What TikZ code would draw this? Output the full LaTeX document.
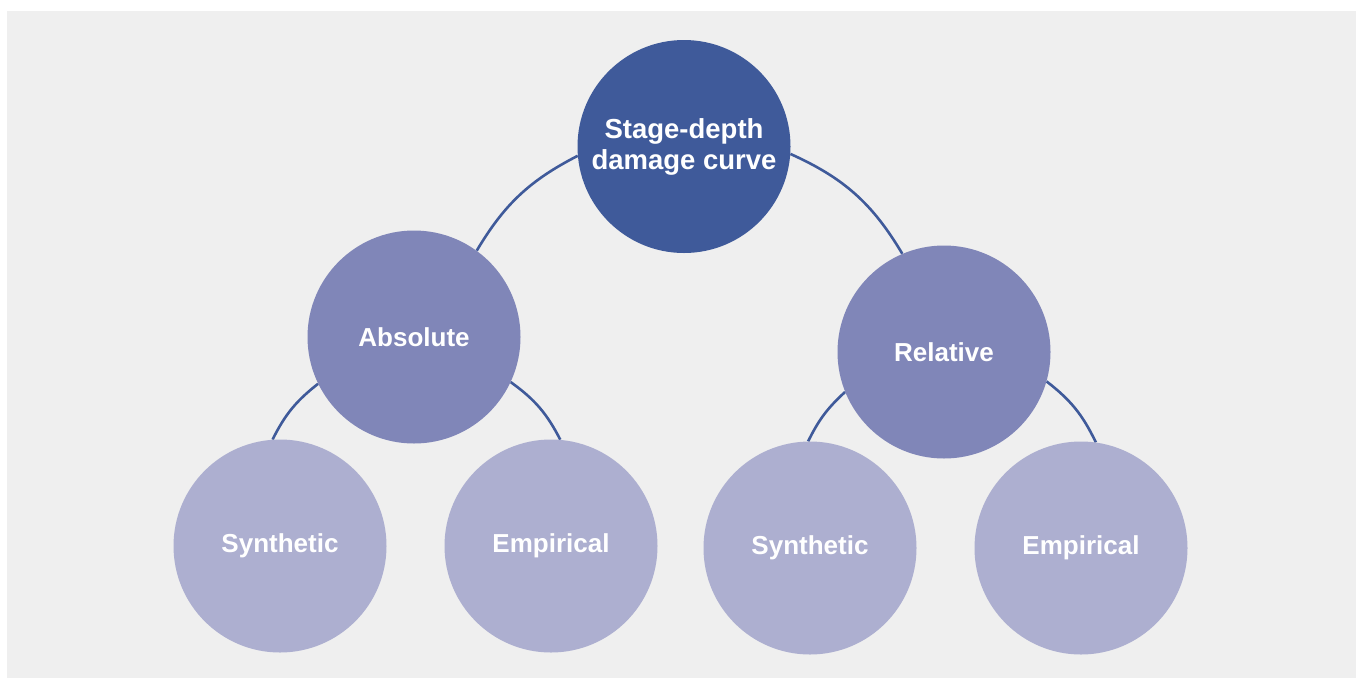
\documentclass[tikz,border=0pt]{standalone}
\usepackage{fontspec}
\setmainfont{Liberation Sans}
\definecolor{bgc}{HTML}{EFEFEF}
\definecolor{topc}{HTML}{3F5A9A}
\definecolor{midc}{HTML}{8086B8}
\definecolor{lowc}{HTML}{ADAFD0}
\definecolor{linec}{HTML}{3F5A9A}
\pgfdeclarelayer{backlayer}
\pgfdeclarelayer{connlayer}
\pgfsetlayers{backlayer,connlayer,main}
\begin{document}
\begin{tikzpicture}[x=1pt,y=-1pt,
  bubble/.style={circle,inner sep=0pt,minimum size=213pt,text=white,font=\fontsize{26}{30}\selectfont\bfseries,align=center},
  topnode/.style={bubble,fill=topc,font=\fontsize{27.5}{31}\selectfont\bfseries},
  midnode/.style={bubble,fill=midc},
  lownode/.style={bubble,fill=lowc},
  link/.style={draw=linec,line width=2.6pt}]
\useasboundingbox (0,0) rectangle (1356,678);
\begin{pgfonlayer}{backlayer}
\fill[white] (0,0) rectangle (1356,678);
\fill[bgc] (7,11) rectangle (1356,678);
\end{pgfonlayer}
\path (684,146.5) node[topnode] (top) {Stage-depth\\damage curve};
\path (414,337) node[midnode] (abs) {Absolute};
\path (944,352) node[midnode] (rel) {Relative};
\path (280,546) node[lownode] (synl) {Synthetic};
\path (551,546) node[lownode] (empl) {Empirical};
\path (810,548) node[lownode] (synr) {Synthetic};
\path (1081,548) node[lownode] (empr) {Empirical};
\begin{pgfonlayer}{connlayer}
\draw[link] (top.185) to[bend right=16] (abs.54.5);
\draw[link] (top.-4) to[bend left=17.5] (rel.113);
\draw[link] (abs.206.5) to[bend right=12.7] (synl.94);
\draw[link] (abs.-25) to[bend left=13.5] (empl.85);
\draw[link] (rel.202) to[bend right=10.6] (synr.91);
\draw[link] (rel.-16.7) to[bend left=13.3] (empr.82.5);
\end{pgfonlayer}
\end{tikzpicture}
\end{document}
